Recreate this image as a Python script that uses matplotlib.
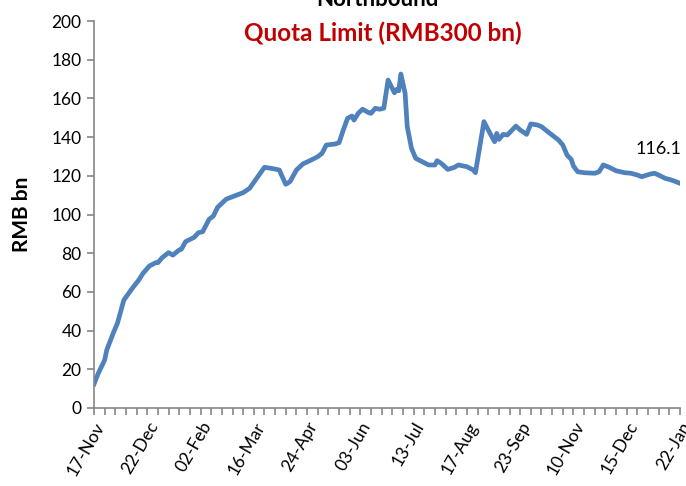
import numpy as np
import matplotlib
matplotlib.use("Agg")
import matplotlib.pyplot as plt

# trading-day index (category axis) and northbound quota used, RMB bn
day = [0, 2, 5, 6, 9, 11, 14, 18, 21, 23, 26, 29, 30, 32, 35, 37, 40, 41, 43, 47,
       49, 51, 54, 56, 58, 62, 65, 70, 73, 76, 80, 84, 87, 88, 90, 92, 95, 98, 102,
       105, 107, 109, 113, 115, 117, 119, 121, 122, 124, 126, 129, 130, 132, 134,
       136, 138, 141, 142, 143, 144, 146, 147, 149, 151, 154, 157, 160, 161, 163,
       166, 169, 171, 175, 178, 179, 183, 185, 188, 189, 190, 192, 194, 198, 200,
       203, 205, 208, 210, 214, 218, 220, 222, 224, 225, 227, 230, 235, 237, 239,
       242, 245, 249, 252, 255, 257, 261, 263, 265, 268, 271, 273, 275]
used = [12.4, 17.9, 24.8, 30.0, 38.6, 43.8, 55.8, 61.9, 66.1, 69.6, 73.4, 75.1, 75.1,
        77.7, 80.3, 79.0, 81.7, 82.0, 86.0, 88.2, 90.6, 91.1, 97.5, 99.2, 103.7,
        107.9, 109.2, 111.3, 113.5, 118.2, 124.4, 123.7, 123.0, 120.4, 115.6, 117.0,
        123.0, 126.1, 128.2, 129.9, 131.6, 135.9, 136.4, 137.1, 143.7, 149.7, 150.9,
        148.8, 152.3, 154.4, 152.6, 152.3, 154.9, 154.4, 154.9, 169.5, 162.9, 164.6,
        163.9, 172.6, 162.6, 145.4, 134.2, 129.0, 127.3, 125.6, 125.6, 127.8, 126.4,
        123.3, 124.3, 125.6, 124.7, 123.0, 121.6, 148.0, 143.7, 137.6, 141.9, 138.8,
        141.4, 141.1, 145.7, 143.7, 141.4, 146.8, 146.3, 145.4, 141.9, 138.5, 135.9,
        130.7, 128.4, 125.0, 122.1, 121.6, 121.3, 122.1, 125.6, 124.3, 122.6, 121.6,
        121.3, 120.4, 119.5, 120.9, 121.3, 120.4, 118.7, 117.8, 117.0, 116.1]

tick_labels = ["17-Nov", "22-Dec", "02-Feb", "16-Mar", "24-Apr", "03-Jun",
               "13-Jul", "17-Aug", "23-Sep", "10-Nov", "15-Dec", "22-Jan"]
last_value = "116.1"

plt.rcParams['font.family'] = ['Lato', 'DejaVu Sans']

fig = plt.figure(figsize=(6.86, 4.86), dpi=100)
ax = fig.add_axes([94 / 686, 1 - 408 / 486, 586 / 686, 387 / 486])

ax.plot(day, used, color='#4F81BD', lw=3.4, solid_joinstyle='round')

ax.set_xlim(0, 275)
ax.set_ylim(0, 200)
ax.set_yticks(np.arange(0, 201, 20))
ax.set_xticks(np.arange(0, 276, 5), minor=True)
ax.set_xticks(np.arange(0, 276, 25))
ax.set_xticklabels(tick_labels, rotation=60, ha='right', rotation_mode='anchor')

grey = '#868686'
for s in ['top', 'right']:
    ax.spines[s].set_visible(False)
for s in ['left', 'bottom']:
    ax.spines[s].set_color(grey)
    ax.spines[s].set_linewidth(1.2)
ax.tick_params(axis='y', length=5, color=grey, width=1.2, labelsize=12.5, pad=4)
ax.tick_params(axis='x', which='both', length=5, color=grey, width=1.2, labelsize=12.5, pad=3)

ax.set_ylabel("RMB bn", fontsize=15, fontweight='bold', labelpad=14)

ax.text(265, 134, last_value, fontsize=13, ha='center', va='center')

fig.text(377 / 686, 1 - 6 / 486, "Northbound", fontsize=16, fontweight='bold',
         ha='center', va='baseline')
fig.text(383 / 686, 1 - 33 / 486, "Quota Limit (RMB300 bn)", fontsize=17.5,
         fontweight='bold', color='#C00000', ha='center', va='center')

fig.savefig("out.png", dpi=100)
